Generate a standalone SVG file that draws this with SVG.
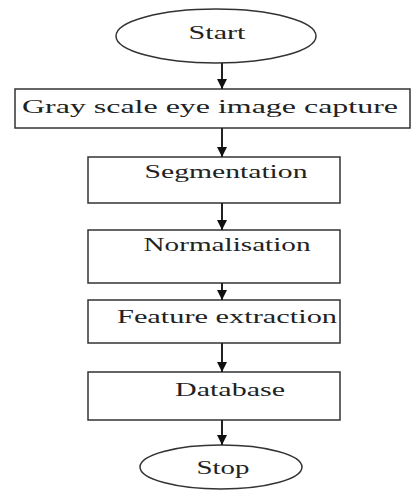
<svg xmlns="http://www.w3.org/2000/svg" width="413" height="492" viewBox="0 0 413 492">
<defs>
<marker id="ah" viewBox="0 0 10 10" refX="10" refY="5" markerWidth="5" markerHeight="5" orient="auto" markerUnits="strokeWidth">
<path d="M0,0 L10,5 L0,10 z" fill="#111"/>
</marker>
<style>
.shape{fill:#fff;stroke:#333;stroke-width:1.5}
.lbl{font-family:"Liberation Serif","DejaVu Serif","Times New Roman",serif;font-size:19px;fill:#222;text-anchor:middle}
.conn line{stroke:#222;stroke-width:2;marker-end:url(#ah)}
</style>
</defs>
<rect width="413" height="492" fill="#fff"/>
<g id="start"><ellipse class="shape" cx="216" cy="36" rx="100" ry="27"/><text class="lbl" x="217" y="39" textLength="57" lengthAdjust="spacingAndGlyphs">Start</text></g>
<g id="capture"><rect class="shape" x="15" y="89" width="395" height="39"/><text class="lbl" x="210" y="113" textLength="376" lengthAdjust="spacingAndGlyphs">Gray scale eye image capture</text></g>
<g id="segmentation"><rect class="shape" x="88" y="157" width="252" height="46"/><text class="lbl" x="226" y="178" textLength="163" lengthAdjust="spacingAndGlyphs">Segmentation</text></g>
<g id="normalisation"><rect class="shape" x="88" y="230" width="252" height="53"/><text class="lbl" x="227" y="251" textLength="167" lengthAdjust="spacingAndGlyphs">Normalisation</text></g>
<g id="feature"><rect class="shape" x="88" y="300" width="252" height="43"/><text class="lbl" x="227" y="323" textLength="220" lengthAdjust="spacingAndGlyphs">Feature extraction</text></g>
<g id="database"><rect class="shape" x="88" y="372" width="252" height="48"/><text class="lbl" x="230" y="396" textLength="110" lengthAdjust="spacingAndGlyphs">Database</text></g>
<g id="stop"><ellipse class="shape" cx="221" cy="467" rx="81" ry="22"/><text class="lbl" x="223" y="474" textLength="53" lengthAdjust="spacingAndGlyphs">Stop</text></g>
<g class="conn">
<line x1="222" y1="63" x2="222" y2="89"/>
<line x1="222" y1="128" x2="222" y2="157"/>
<line x1="222" y1="203" x2="222" y2="230"/>
<line x1="222" y1="283" x2="222" y2="300"/>
<line x1="222" y1="343" x2="222" y2="372"/>
<line x1="222" y1="420" x2="222" y2="445"/>
</g>
</svg>
